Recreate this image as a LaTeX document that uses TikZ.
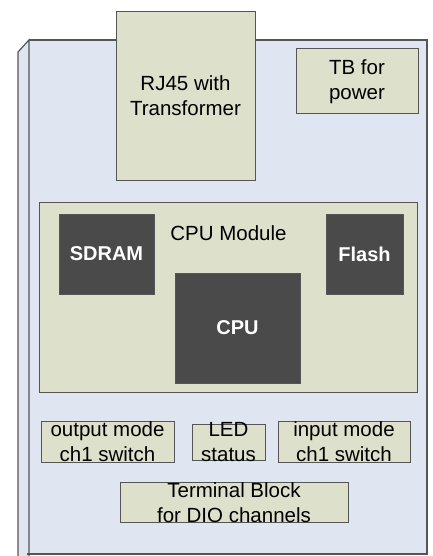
\documentclass[tikz,border=0pt]{standalone}
\usepackage{fontspec}
\setmainfont{Liberation Sans}
\definecolor{board}{RGB}{223,230,241}
\definecolor{part}{RGB}{221,224,203}
\definecolor{chip}{RGB}{74,74,74}
\definecolor{edge}{RGB}{85,85,85}
\begin{document}
\begin{tikzpicture}[x=1pt,y=-1pt,
   box/.style={draw=edge,fill=part,line width=1pt,inner sep=0pt,align=center,
      font=\fontsize{20.5}{25}\selectfont},
   ic/.style={draw=edge,fill=chip,line width=1pt,inner sep=0pt,text=white,
      font=\fontsize{20}{24}\selectfont\bfseries}]
   \useasboundingbox (0,0) rectangle (433,556);
   % board with its side face
   \fill[board] (18,52) -- (29,40) -- (29,556) -- (18,556) -- cycle;
   \fill[board] (29,40) rectangle (427,554);
   \draw[edge,line width=1.2pt] (18,556) -- (18,52) -- (29,40) -- (29,556);
   \draw[edge,line width=1.2pt] (29,40) -- (427,40) -- (427,554) -- (27,554);
   % parts on top
   \node[box,minimum width=139pt,minimum height=168pt] (rj) at (185.5,96) {RJ45 with\\Transformer};
   \node[box,minimum width=122pt,minimum height=65pt] (tb) at (357,81.5) {TB for\\power};
   \node[box,minimum width=378pt,minimum height=190pt] (mod) at (228,297) {};
   \node[font=\fontsize{20.5}{25}\selectfont] (modl) at (228.5,233) {CPU Module};
   \node[ic,minimum width=95pt,minimum height=80pt] (ram) at (106.5,254) {SDRAM};
   \node[ic,minimum width=77pt,minimum height=80pt] (fl) at (364.5,254) {Flash};
   \node[ic,minimum width=125pt,minimum height=110pt] (cpu) at (237.5,328) {CPU};
   \node[box,minimum width=133pt,minimum height=40pt] (out) at (107.5,442) {output mode\\ch1 switch};
   \node[box,minimum width=73pt,minimum height=36pt] (led) at (228.5,442) {};
   \node[align=center,inner sep=0pt,font=\fontsize{20.5}{25}\selectfont] (ledl) at (led.center) {LED\\status};
   \node[box,minimum width=132pt,minimum height=40pt] (in) at (344,442) {input mode\\ch1 switch};
   \node[box,minimum width=228pt,minimum height=39pt] (term) at (234,502.5) {Terminal Block\\for DIO channels};
\end{tikzpicture}
\end{document}
